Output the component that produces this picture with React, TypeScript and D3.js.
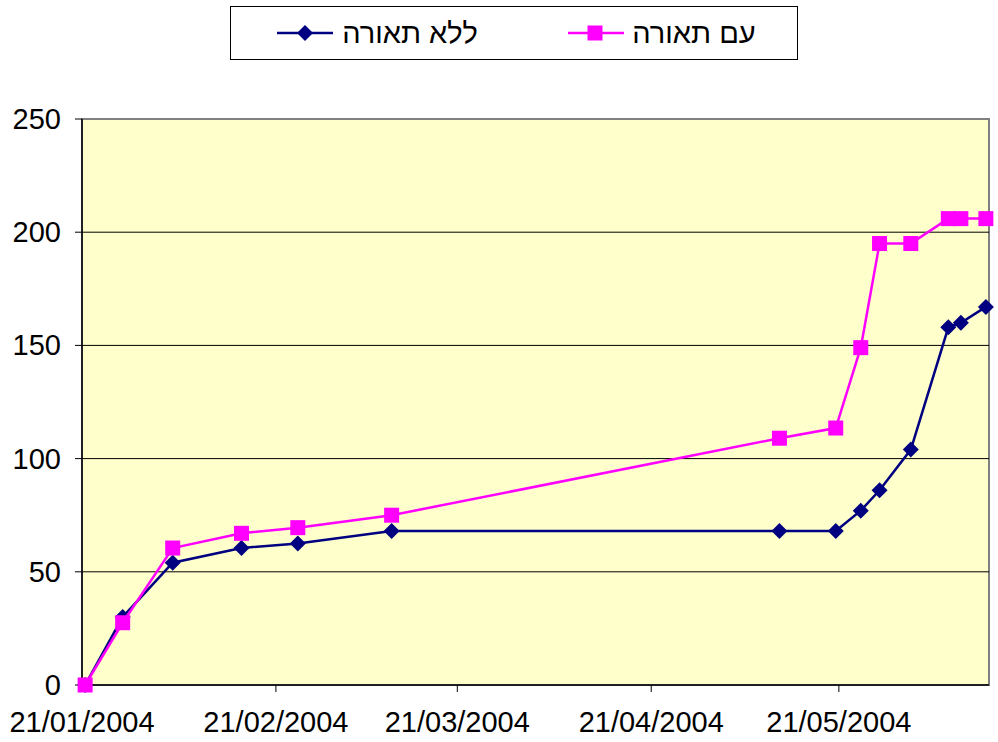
import React from "react";
import * as d3 from "d3";

const dates = [
  "2004-01-21", "2004-01-27", "2004-02-04", "2004-02-15", "2004-02-24", "2004-03-10",
  "2004-05-11", "2004-05-20", "2004-05-24", "2004-05-27", "2004-06-01", "2004-06-07",
  "2004-06-09", "2004-06-13",
];
const withoutLight = [0, 30, 54, 60.5, 62.5, 68, 68, 68, 77, 86, 104, 158, 160, 167];
const withLight = [0, 27.5, 60.5, 67, 69.5, 75, 109, 113.5, 149, 195, 195, 206, 206, 206];
const seriesNames = ["ללא תאורה", "עם תאורה"];
const tickDates = ["2004-01-21", "2004-02-21", "2004-03-21", "2004-04-21", "2004-05-21"];
const yTicks = [0, 50, 100, 150, 200, 250];

const parse = d3.timeParse("%Y-%m-%d");
const fmt = d3.timeFormat("%d/%m/%Y");
const font = "'Liberation Sans', Arial, sans-serif";

const App = () => {
  const left = 82;
  const right = 989;
  const top = 119;
  const bottom = 685;

  const x = d3
    .scaleTime()
    .domain([parse("2004-01-21") as Date, parse("2004-06-14") as Date])
    .range([left, right]);
  const y = d3.scaleLinear().domain([0, 250]).range([bottom, top]);

  // points sit in the middle of their day slot
  const px = (s: string) => x(d3.timeHour.offset(parse(s) as Date, 12));

  const series = [
    { name: seriesNames[0], values: withoutLight, color: "#000080", shape: "diamond" },
    { name: seriesNames[1], values: withLight, color: "#FF00FF", shape: "square" },
  ];

  const line = d3
    .line<number>()
    .x((d, i) => px(dates[i]))
    .y((d) => y(d));

  const marker = (shape: string, cx: number, cy: number, color: string, key: any) =>
    shape === "diamond" ? (
      <path
        key={key}
        d={`M${cx},${cy - 8}L${cx + 8},${cy}L${cx},${cy + 8}L${cx - 8},${cy}Z`}
        fill={color}
      />
    ) : (
      <rect key={key} x={cx - 7.5} y={cy - 7.5} width={15} height={15} fill={color} />
    );

  const legendItems = [
    { lx: 277, cx: 305, tx: 410 },
    { lx: 568, cx: 595, tx: 694 },
  ];

  return (
    <svg
      width={998}
      height={742}
      style={{ position: "absolute", left: 0, top: 0, background: "#fff" }}
      fontFamily={font}
    >
      {/* legend */}
      <rect x={230.5} y={6.5} width={567} height={53} fill="#fff" stroke="#000" strokeWidth={1} />
      {series.map((s, i) => (
        <g key={s.name}>
          <line
            x1={legendItems[i].lx}
            x2={legendItems[i].lx + 56}
            y1={33}
            y2={33}
            stroke={s.color}
            strokeWidth={2.5}
          />
          {marker(s.shape, legendItems[i].cx, 33, s.color, "m")}
          <text x={legendItems[i].tx} y={43} fontSize={29} textAnchor="middle">
            {s.name}
          </text>
        </g>
      ))}

      {/* plot area */}
      <rect x={left} y={top} width={right - left} height={bottom - top} fill="#FFFFCC" stroke="#808080" strokeWidth={2} />
      {yTicks.slice(1, -1).map((t) => (
        <line key={t} x1={left} x2={right} y1={y(t)} y2={y(t)} stroke="#000" strokeWidth={1} />
      ))}

      {/* y axis */}
      <line x1={left} x2={left} y1={top} y2={bottom} stroke="#000" strokeWidth={1.5} />
      {yTicks.map((t) => (
        <g key={t}>
          <line x1={left - 7} x2={left} y1={y(t)} y2={y(t)} stroke="#000" strokeWidth={1} />
          <text x={61} y={y(t) + 10} fontSize={29} textAnchor="end">
            {t}
          </text>
        </g>
      ))}

      {/* x axis */}
      <line x1={left} x2={right} y1={bottom} y2={bottom} stroke="#000" strokeWidth={1.5} />
      {tickDates.map((t) => {
        const tx = x(parse(t) as Date);
        return (
          <g key={t}>
            <line x1={tx} x2={tx} y1={bottom} y2={bottom + 7} stroke="#000" strokeWidth={1} />
            <text x={tx} y={732} fontSize={29} textAnchor="middle">
              {fmt(parse(t) as Date)}
            </text>
          </g>
        );
      })}

      {/* series */}
      {series.map((s) => (
        <g key={s.name}>
          <path d={line(s.values) || ""} fill="none" stroke={s.color} strokeWidth={2.5} />
          {s.values.map((v, i) => marker(s.shape, px(dates[i]), y(v), s.color, i))}
        </g>
      ))}
    </svg>
  );
};

export default App;
